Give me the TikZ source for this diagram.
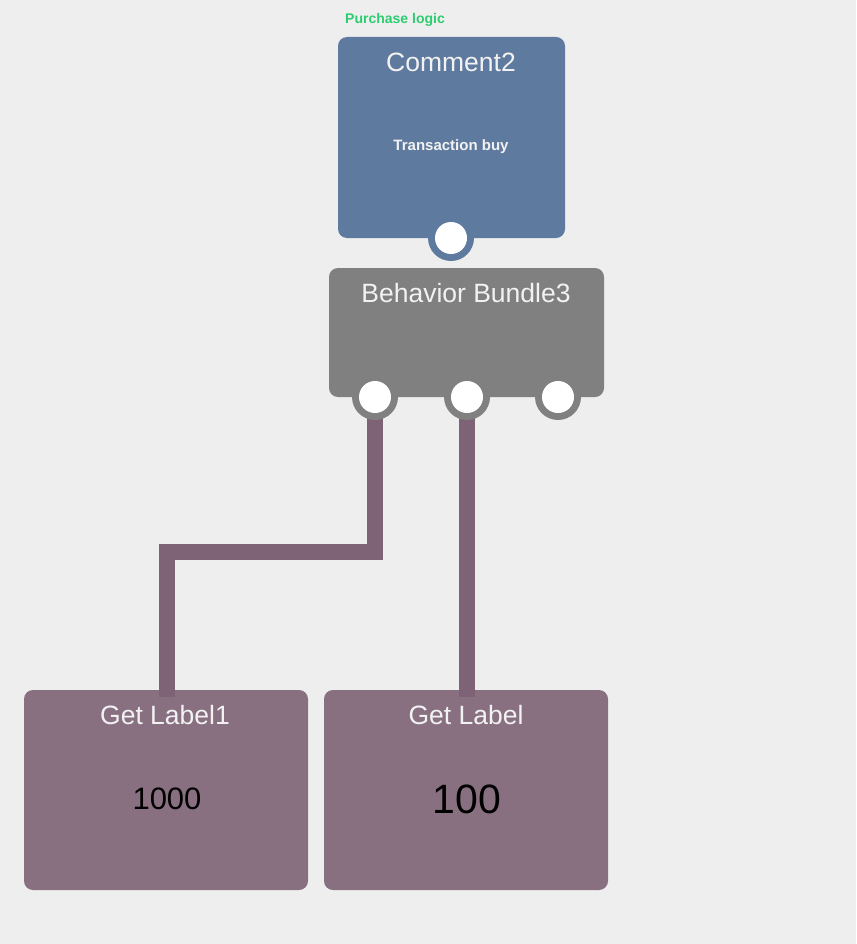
\documentclass[tikz,border=0pt]{standalone}
\usepackage{fontspec}
\setmainfont{Liberation Sans}
\definecolor{bg}{HTML}{EEEEEE}
\definecolor{cblue}{HTML}{5F7A9F}
\definecolor{cgray}{HTML}{808080}
\definecolor{cplum}{HTML}{897081}
\definecolor{cwire}{HTML}{7D6375}
\definecolor{cgreen}{HTML}{2ECC71}
\definecolor{ctext}{HTML}{F2F2F2}
\tikzset{
  box/.style={rectangle, rounded corners=9pt, inner sep=0pt, outer sep=0pt, draw=none},
  portring/.style={circle, inner sep=0pt, minimum size=46pt, draw=none},
  porthole/.style={circle, inner sep=0pt, minimum size=32pt, fill=white, draw=none},
  wire/.style={draw=cwire, line width=16pt, line cap=butt, line join=miter},
  title/.style={anchor=base, text=ctext, font=\fontsize{26.5}{30}\selectfont},
}
\begin{document}
\begin{tikzpicture}[x=1pt,y=-1pt]
\useasboundingbox (0,0) rectangle (856,944);
\fill[bg] (0,0) rectangle (856,944);
% bottom boxes
\node[box, fill=cplum, minimum width=284pt, minimum height=200pt] (gl1) at (166,790) {};
\node[box, fill=cplum, minimum width=284pt, minimum height=200pt] (gl) at (466,790) {};
\node[title] (gl1t) at (165,724) {Get Label1};
\node[title] (glt) at (466,724) {Get Label};
\node[anchor=base, font=\fontsize{31}{34}\selectfont] (v1) at (167,809) {1000};
\node[anchor=base, font=\fontsize{41}{44}\selectfont] (v2) at (467,813) {100};
% comment box
\node[box, fill=cblue, minimum width=227pt, minimum height=201pt] (cm) at (451.5,137.5) {};
\node[portring, fill=cblue] (cmring) at (451,238) {};
\node[porthole] (cmport) at (451,238) {};
\node[title] (cmt) at (451,72) {Comment2};
\node[anchor=base, text=ctext, font=\bfseries\fontsize{15}{18}\selectfont] (cmb) at (451,151) {Transaction buy};
\node[anchor=base, text=cgreen, font=\bfseries\fontsize{14}{16}\selectfont] (pl) at (395,24) {Purchase logic};
% behavior bundle
\node[box, fill=cgray, minimum width=275pt, minimum height=129pt] (bb) at (466.5,332.5) {};
\node[title] (bbt) at (466,302) {Behavior Bundle3};
\coordinate (p1) at (375,397);
\coordinate (p2) at (467,397);
\coordinate (p3) at (558,397);
% wires
\coordinate (bend1) at (375,552);
\coordinate (bend2) at (167,552);
\draw[wire] (p1) -- (bend1) -- (bend2) -- (167,697);
\draw[wire] (p2) -- (467,697);
% ports
\node[portring, fill=cgray] (r1) at (p1) {};
\node[portring, fill=cgray] (r2) at (p2) {};
\node[portring, fill=cgray] (r3) at (p3) {};
\node[porthole] (h1) at (p1) {};
\node[porthole] (h2) at (p2) {};
\node[porthole] (h3) at (p3) {};
\end{tikzpicture}
\end{document}
